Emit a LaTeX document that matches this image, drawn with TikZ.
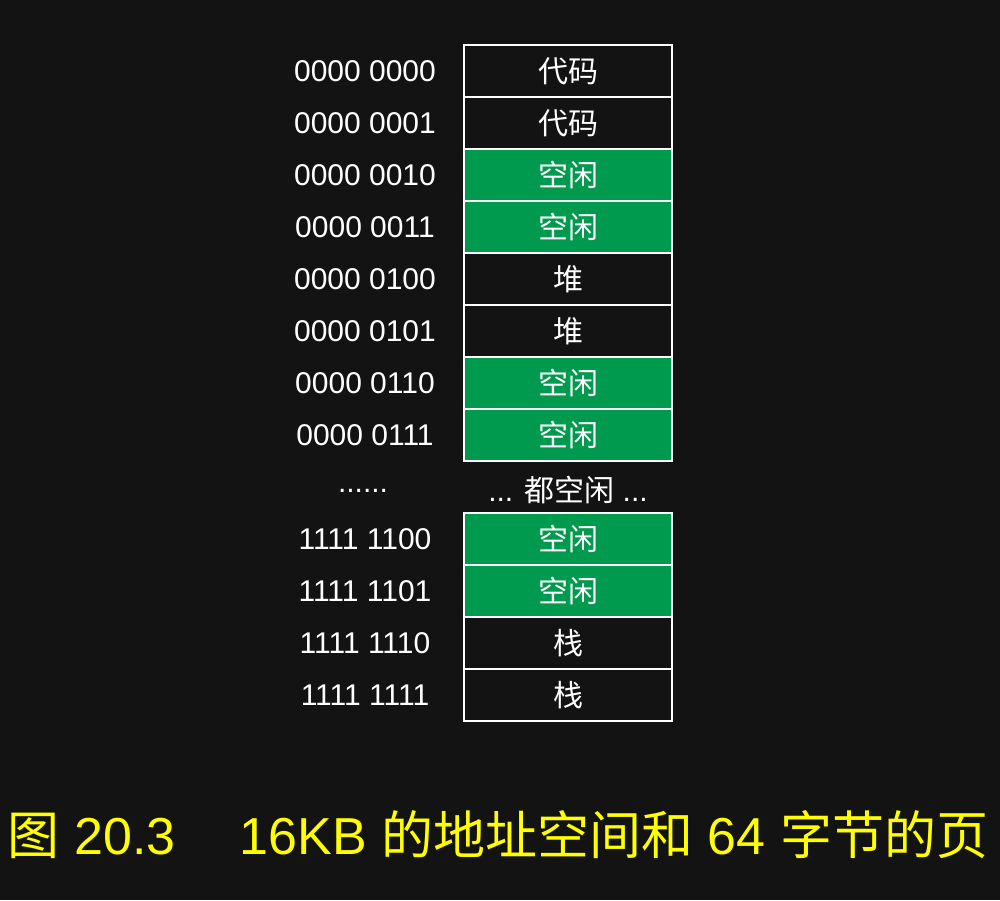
\documentclass[tikz,border=0pt]{standalone}
\usepackage{fontspec}
\setmainfont{Liberation Sans}
\newfontfamily\cjk{Noto Sans CJK SC}
\usetikzlibrary{positioning}
\definecolor{pagebg}{HTML}{131313}
\definecolor{freegreen}{HTML}{009A4E}
\definecolor{capyellow}{HTML}{FFFF00}
\tikzset{
  slot/.style={draw=white, line width=2pt, minimum width=208pt, minimum height=52pt,
               inner sep=0pt, outer sep=0pt, anchor=north west, text=white,
               font=\fontsize{30}{32}\selectfont\cjk},
  free/.style={slot, fill=freegreen},
  used/.style={slot, fill=pagebg},
  addr/.style={text=white, font=\fontsize{30}{32}\selectfont}
}
\begin{document}
\begin{tikzpicture}[x=1pt, y=1pt]
  \fill[pagebg] (0,0) rectangle (1000,900);
  \useasboundingbox (0,0) rectangle (1000,900);
  % first pages of the space
  \foreach \i/\kind/\txt/\adr in {1/used/代码/0000 0000, 2/used/代码/0000 0001,
      3/free/空闲/0000 0010, 4/free/空闲/0000 0011, 5/used/堆/0000 0100,
      6/used/堆/0000 0101, 7/free/空闲/0000 0110, 8/free/空闲/0000 0111} {
    \node[\kind] (s\i) at (464, {855-52*(\i-1)}) {\txt};
    \node[addr] (a\i) at ([xshift=-99pt]s\i.west) {\adr};
  }
  \node[addr] (gapadr) at (363, 409) {......};
  \node[text=white, font=\fontsize{30}{32}\selectfont] (gaptxt) at (568, 410) {... {\cjk 都空闲} ...};
  % last pages of the space
  \foreach \i/\kind/\txt/\adr in {1/free/空闲/1111 1100, 2/free/空闲/1111 1101,
      3/used/栈/1111 1110, 4/used/栈/1111 1111} {
    \node[\kind] (t\i) at (464, {387-52*(\i-1)}) {\txt};
    \node[addr] (b\i) at ([xshift=-99pt]t\i.west) {\adr};
  }
  \node[text=capyellow, font=\fontsize{52}{54}\selectfont] (caption) at (498, 65)
    {{\cjk 图} 20.3\hspace{64pt}16KB {\cjk 的地址空间和} 64 {\cjk 字节的页}};
\end{tikzpicture}
\end{document}
